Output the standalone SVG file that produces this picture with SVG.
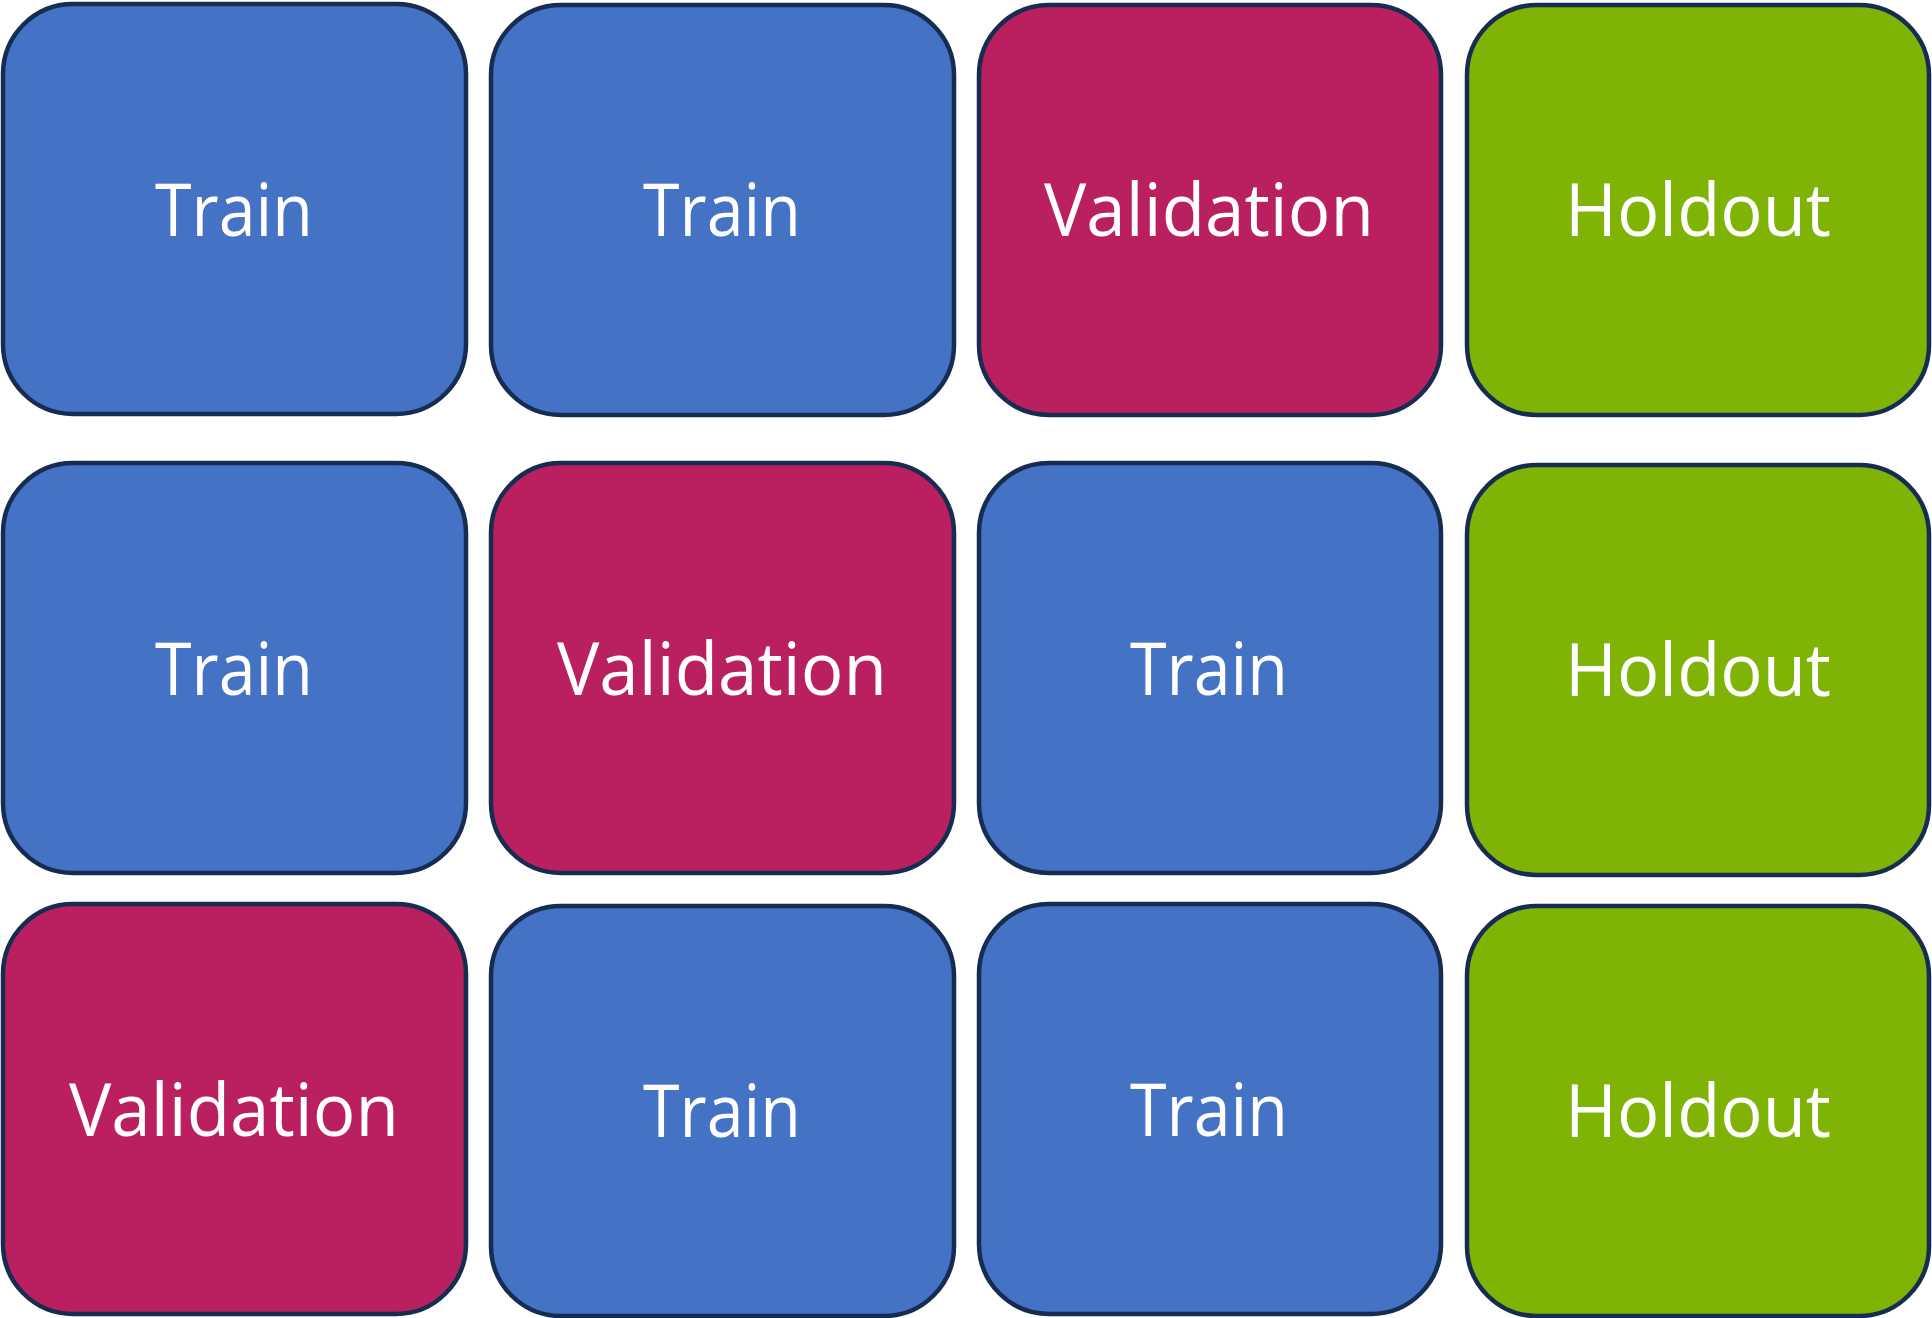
<svg xmlns="http://www.w3.org/2000/svg" width="1932" height="1318" viewBox="0 0 1932 1318">
<style>
rect{stroke:#172C51;stroke-width:4.5}
.t{fill:#4472C4}.v{fill:#BA1F5F}.h{fill:#7FB306}
text{font-family:"Open Sans","Noto Sans",sans-serif;font-size:74px;fill:#FFFFFF;text-anchor:middle}
</style>
<rect width="1932" height="1318" fill="#FFFFFF" style="stroke:none"/>
<g id="r1c1"><rect class="t" x="3" y="4" width="463" height="410" rx="70"/><text x="234" y="236" textLength="158" lengthAdjust="spacingAndGlyphs">Train</text></g>
<g id="r1c2"><rect class="t" x="491" y="5" width="463" height="410" rx="70"/><text x="722" y="236" textLength="158" lengthAdjust="spacingAndGlyphs">Train</text></g>
<g id="r1c3"><rect class="v" x="979" y="5" width="462" height="410" rx="70"/><text x="1209" y="236" textLength="330" lengthAdjust="spacingAndGlyphs">Validation</text></g>
<g id="r1c4"><rect class="h" x="1467" y="5" width="462" height="410" rx="70"/><text x="1698" y="236" textLength="266" lengthAdjust="spacingAndGlyphs">Holdout</text></g>
<g id="r2c1"><rect class="t" x="3" y="463" width="463" height="410" rx="70"/><text x="234" y="695" textLength="158" lengthAdjust="spacingAndGlyphs">Train</text></g>
<g id="r2c2"><rect class="v" x="491" y="463" width="463" height="410" rx="70"/><text x="722" y="695" textLength="330" lengthAdjust="spacingAndGlyphs">Validation</text></g>
<g id="r2c3"><rect class="t" x="979" y="463" width="462" height="410" rx="70"/><text x="1209" y="695" textLength="158" lengthAdjust="spacingAndGlyphs">Train</text></g>
<g id="r2c4"><rect class="h" x="1467" y="465" width="462" height="410" rx="70"/><text x="1698" y="696" textLength="266" lengthAdjust="spacingAndGlyphs">Holdout</text></g>
<g id="r3c1"><rect class="v" x="3" y="904" width="463" height="410" rx="70"/><text x="234" y="1136" textLength="330" lengthAdjust="spacingAndGlyphs">Validation</text></g>
<g id="r3c2"><rect class="t" x="491" y="906" width="463" height="410" rx="70"/><text x="722" y="1137" textLength="158" lengthAdjust="spacingAndGlyphs">Train</text></g>
<g id="r3c3"><rect class="t" x="979" y="904" width="462" height="410" rx="70"/><text x="1209" y="1136" textLength="158" lengthAdjust="spacingAndGlyphs">Train</text></g>
<g id="r3c4"><rect class="h" x="1467" y="906" width="462" height="410" rx="70"/><text x="1698" y="1137" textLength="266" lengthAdjust="spacingAndGlyphs">Holdout</text></g>
<g id="connectors"></g>
</svg>
